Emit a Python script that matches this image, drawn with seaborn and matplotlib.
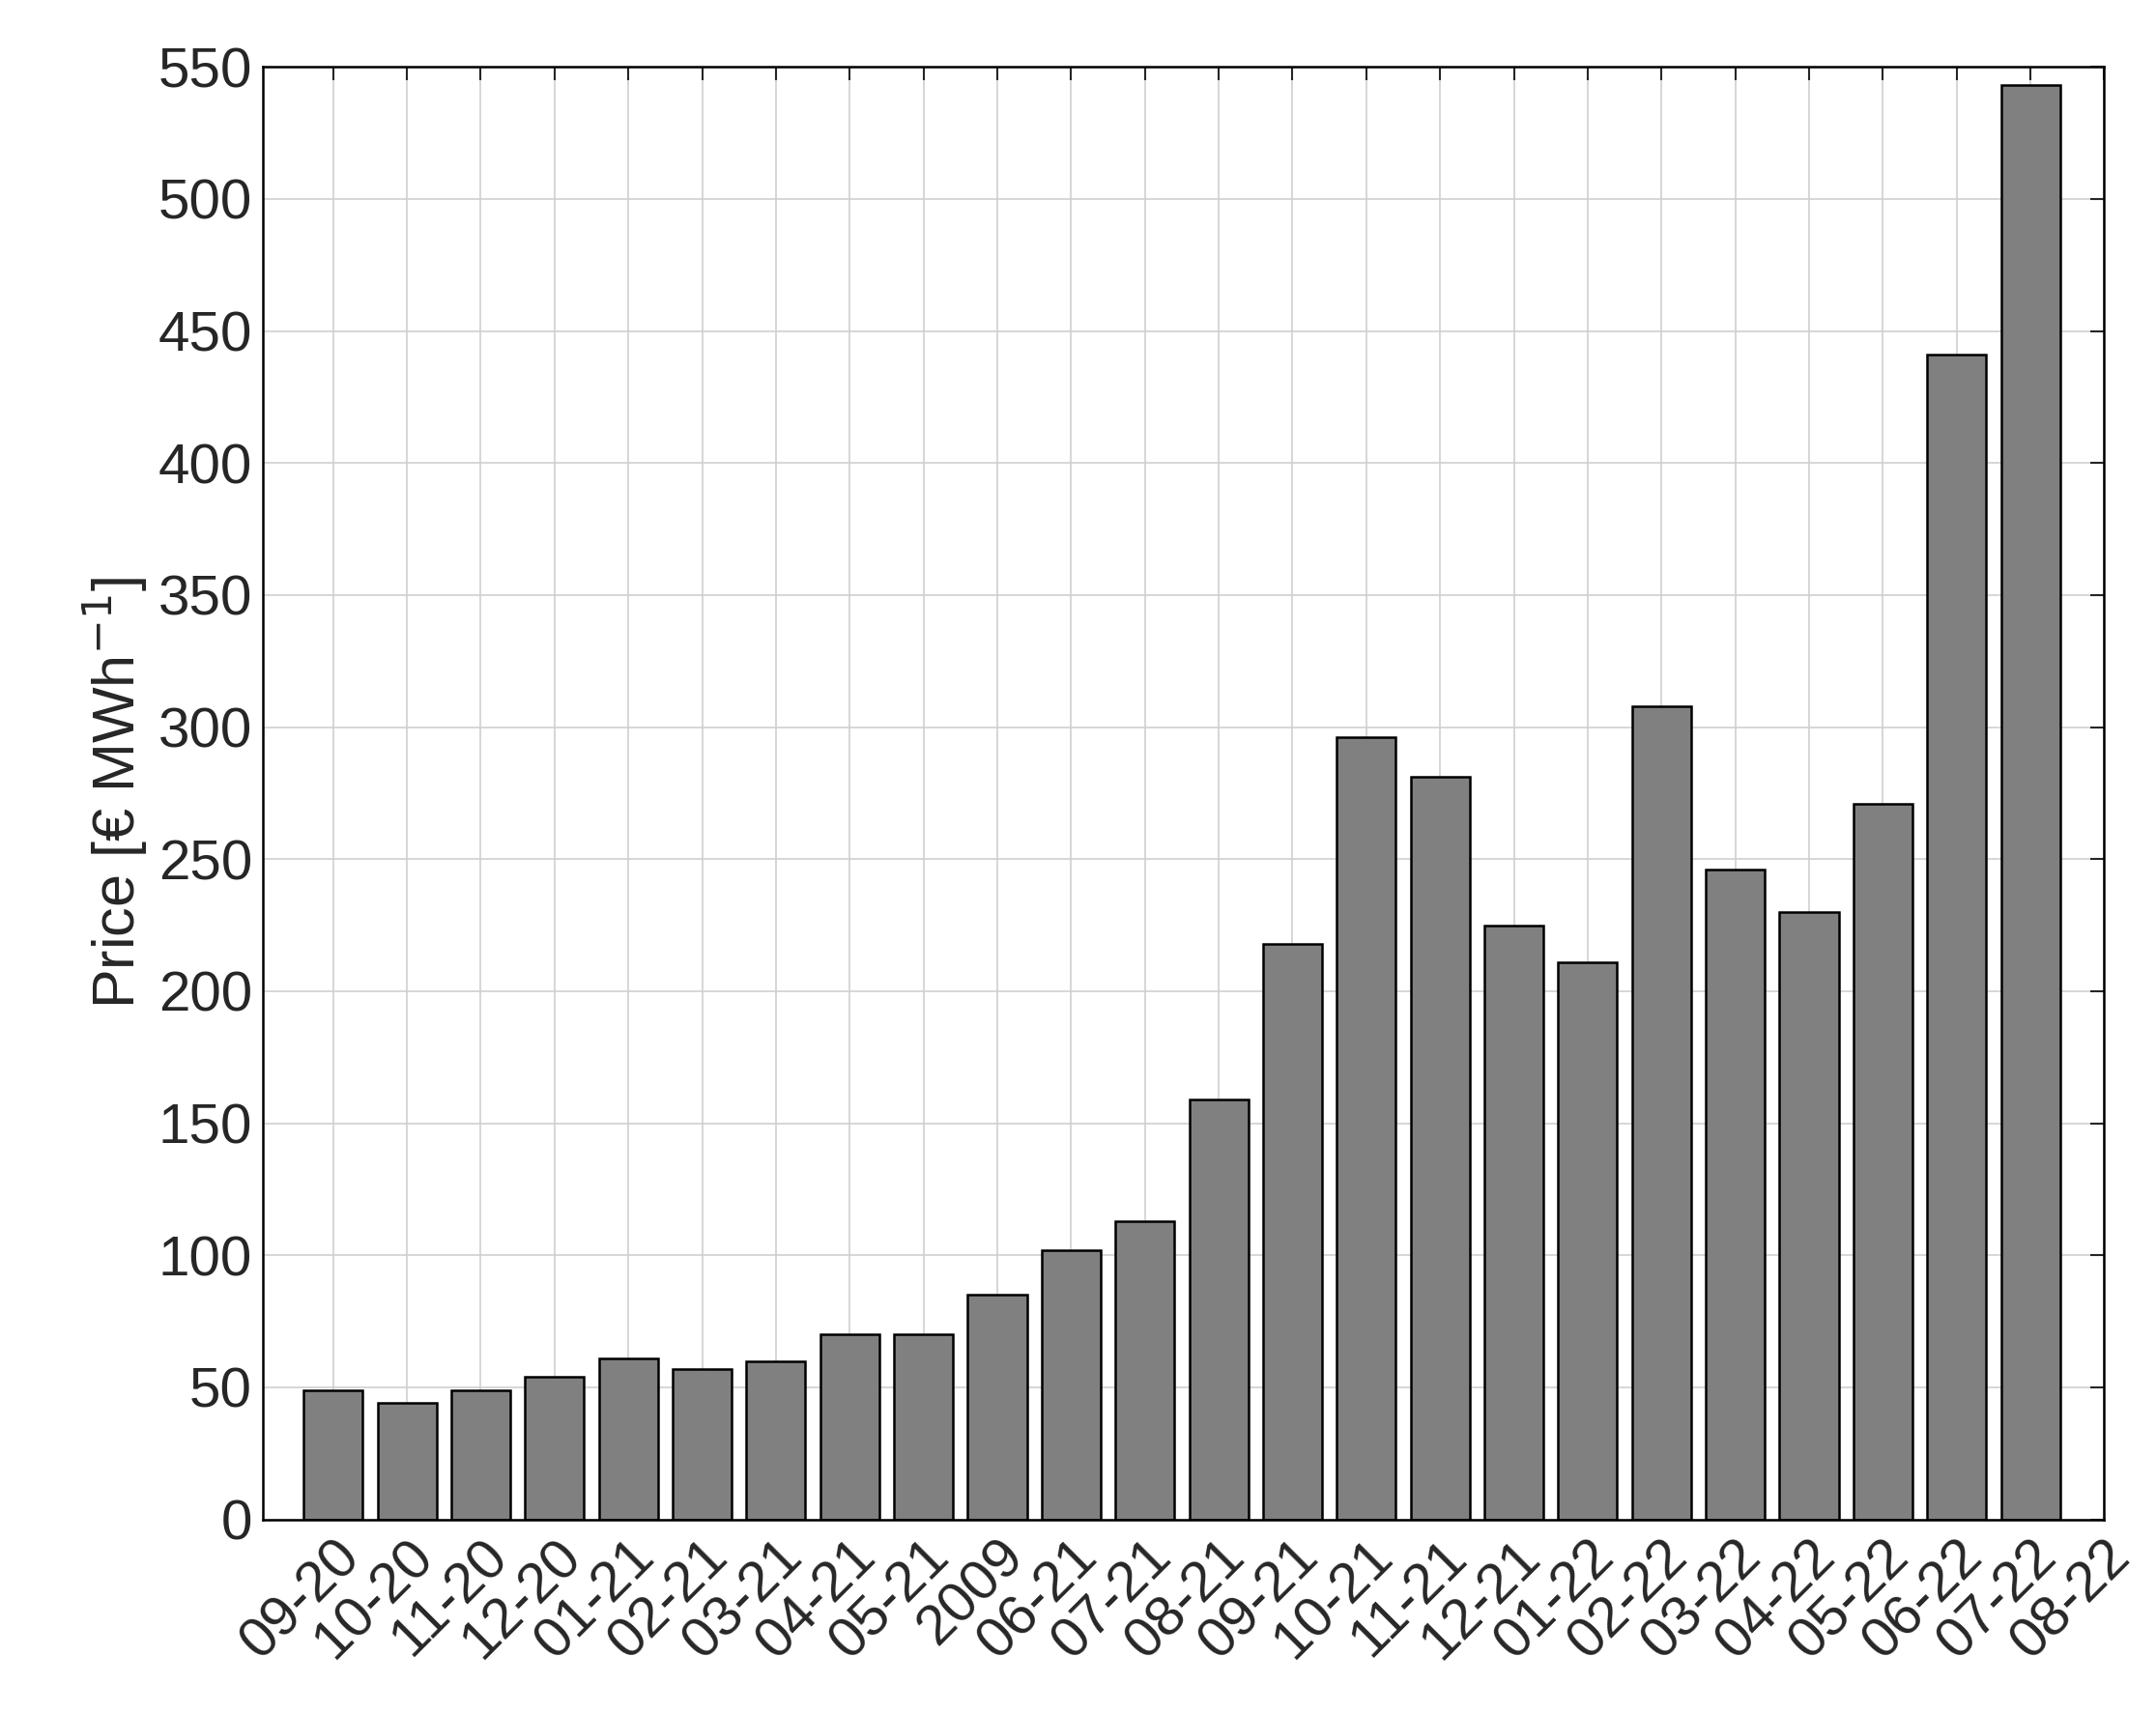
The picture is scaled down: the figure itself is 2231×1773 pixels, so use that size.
import numpy as np
import pandas as pd
import matplotlib
matplotlib.use("Agg")
import matplotlib.pyplot as plt
import seaborn as sns

tick_labels = ["09-20", "10-20", "11-20", "12-20", "01-21", "02-21", "03-21", "04-21",
               "05-21", "2009", "06-21", "07-21", "08-21", "09-21", "10-21", "11-21",
               "12-21", "01-22", "02-22", "03-22", "04-22", "05-22", "06-22", "07-22", "08-22"]
prices = [49, 44, 49, 54, 61, 57, 60, 70, 70, 85, 102, 113, 159, 218,
          296, 281, 225, 211, 308, 246, 230, 271, 441, 543]

df = pd.DataFrame({"pos": np.arange(1, len(prices) + 1), "price": prices})

sns.set_style("white")
plt.rcParams['font.family'] = ['Liberation Sans', 'DejaVu Sans']

fig = plt.figure(figsize=(22.31, 17.73), dpi=100)
ax = fig.add_axes([0.122, 0.113, 0.854, 0.848])
sns.barplot(data=df, x="pos", y="price", native_scale=True, width=0.8,
            color="#808080", saturation=1, edgecolor="black", linewidth=1.8, ax=ax)

ax.set_xlim(0.05, 25)
ax.set_ylim(0, 550)
ax.set_yticks(np.arange(0, 551, 50))
ax.set_xticks(np.arange(1, len(tick_labels) + 1))
ax.set_xticklabels(tick_labels, rotation=45, ha="right", rotation_mode="anchor")
ax.set_xlabel("")
ax.set_ylabel("Price [€ MWh$^{-1}$]", fontsize=44, labelpad=6)
ax.tick_params(labelsize=42, direction="in", top=True, right=True, length=10, width=1.5, pad=8)
ax.grid(True, color="#d0d0d0", linewidth=1.2)
ax.set_axisbelow(True)
for s in ax.spines.values():
    s.set_linewidth(1.8)
    s.set_color("black")

fig.savefig("out.png", dpi=100)
